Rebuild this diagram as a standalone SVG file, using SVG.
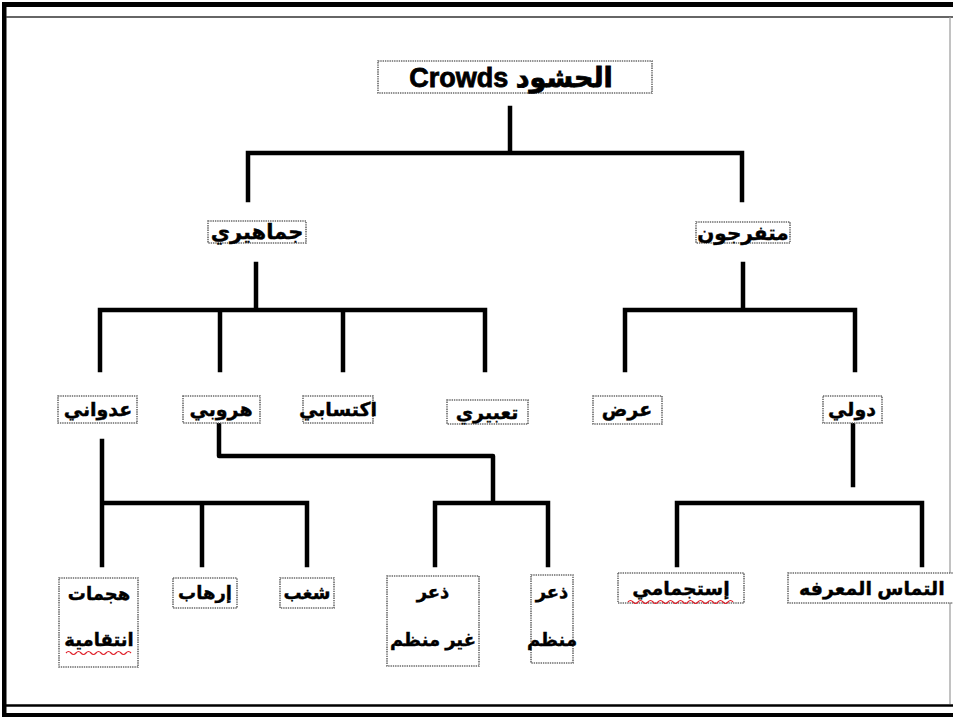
<svg xmlns="http://www.w3.org/2000/svg" width="953" height="717" viewBox="0 0 953 717">
<style>
.box{fill:#fff;stroke:#6a6a6a;stroke-width:1.6;stroke-dasharray:1.4 0.9}
.t{font-family:"Liberation Sans","DejaVu Sans",sans-serif;font-weight:bold;fill:#000;stroke:#000;stroke-width:0.4;text-anchor:middle}
.c{fill:none;stroke:#000;stroke-width:4.5;stroke-linejoin:round;stroke-linecap:square}
.sq{fill:none;stroke:#e0202a;stroke-width:1.2}
</style>
<rect width="953" height="717" fill="#fff"/>
<g id="frame">
<rect x="2" y="2" width="951" height="5" fill="#000"/>
<rect x="2" y="2" width="4.5" height="715" fill="#000"/>
<rect x="2" y="713" width="951" height="4" fill="#000"/>
<line x1="6" y1="17" x2="953" y2="17" stroke="#333" stroke-width="1.6"/>
<line x1="950" y1="17" x2="950" y2="704" stroke="#999" stroke-width="1.2"/>
<line x1="6" y1="705.5" x2="953" y2="705.5" stroke="#000" stroke-width="2.5"/>
</g>
<g id="connectors">
<path class="c" d="M510 108V153M248 153H742M248 153V200M742 153V200"/>
<path class="c" d="M256 264V310M100 310H485M100 310V370M220 310V370M343 310V370M485 310V370"/>
<path class="c" d="M743 264V310M625 310H855M625 310V370M855 310V370"/>
<path class="c" d="M102 441V565M102 503H307M202 503V565M307 503V565"/>
<path class="c" d="M219 425V456H493V503M435 503H548M435 503V565M548 503V565"/>
<path class="c" d="M853 425V485M677 503H922M677 503V565M922 503V565"/>
</g>
<g id="n-root"><rect class="box" x="378" y="61" width="274" height="32"/><text class="t" x="511" y="87" font-size="27" style="stroke-width:0.8">Crowds الحشود</text></g>
<g id="n-jamahiri"><rect class="box" x="208" y="221" width="98" height="22"/><text class="t" x="257" y="239" font-size="21">جماهيري</text></g>
<g id="n-mutafarrijun"><rect class="box" x="696" y="222" width="94" height="21"/><text class="t" x="743" y="240" font-size="20">متفرجون</text></g>
<g id="n-adwani"><rect class="box" x="58" y="396" width="79" height="27"/><text class="t" x="98" y="416" font-size="19">عدواني</text></g>
<g id="n-harubi"><rect class="box" x="183" y="396" width="77" height="27"/><text class="t" x="221" y="416" font-size="19">هروبي</text></g>
<g id="n-iktisabi"><rect class="box" x="303" y="396" width="70" height="27"/><text class="t" x="338" y="416" font-size="19">اكتسابي</text></g>
<g id="n-taabiri"><rect class="box" x="447" y="400" width="81" height="24"/><text class="t" x="487" y="419" font-size="19">تعبيري</text></g>
<g id="n-ard"><rect class="box" x="593" y="396" width="69" height="28"/><text class="t" x="627" y="416" font-size="19">عرض</text></g>
<g id="n-duwali"><rect class="box" x="823" y="396" width="59" height="27"/><text class="t" x="852" y="416" font-size="19">دولي</text></g>
<g id="n-hajamat"><rect class="box" x="59" y="578" width="79" height="89"/><text class="t" x="99" y="600" font-size="18">هجمات</text><text class="t" x="99" y="646" font-size="18">انتقامية</text><path class="sq" d="M66 653q2.5 -3 5 0t5 0t5 0t5 0t5 0t5 0t5 0t5 0t5 0t5 0t5 0t5 0t5 0"/></g>
<g id="n-irhab"><rect class="box" x="173" y="578" width="64" height="30"/><text class="t" x="205" y="599" font-size="18">إرهاب</text></g>
<g id="n-shaghab"><rect class="box" x="280" y="578" width="54" height="30"/><text class="t" x="307" y="599" font-size="18">شغب</text></g>
<g id="n-dhuar-ghayr"><rect class="box" x="387" y="576" width="92" height="90"/><text class="t" x="433" y="598" font-size="18">ذعر</text><text class="t" x="433" y="646" font-size="18">غير منظم</text></g>
<g id="n-dhuar-munazzam"><rect class="box" x="531" y="575" width="42" height="88"/><text class="t" x="552" y="598" font-size="18">ذعر</text><text class="t" x="552" y="646" font-size="18">منظم</text></g>
<g id="n-istijmami"><rect class="box" x="618" y="573" width="126" height="30"/><text class="t" x="681" y="595" font-size="19">إستجمامي</text><path class="sq" d="M628 602q2.5 -3 5 0t5 0t5 0t5 0t5 0t5 0t5 0t5 0t5 0t5 0t5 0t5 0t5 0t5 0t5 0t5 0t5 0t5 0t5 0t5 0t5 0"/></g>
<g id="n-iltimas"><rect class="box" x="788" y="573" width="175" height="30"/><text class="t" x="799" y="595" font-size="19" style="text-anchor:start">التماس المعرفه</text></g>
</svg>
